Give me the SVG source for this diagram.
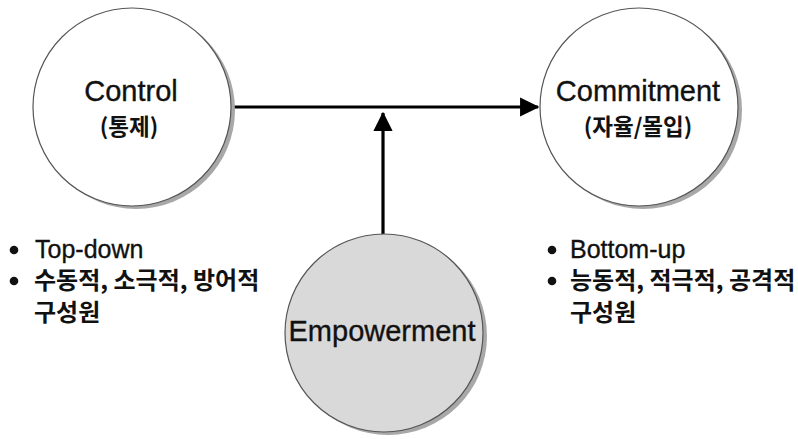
<svg xmlns="http://www.w3.org/2000/svg" width="798" height="439" viewBox="0 0 798 439">
<defs>
<style>
.node{stroke:#555;stroke-width:1.2}
.shadow{fill:#a8a8a8}
.lat{font-family:"Liberation Sans",Arial,"Noto Sans CJK KR",sans-serif;fill:#111;stroke:#111;stroke-width:0.35}
.kor{font-family:"Noto Sans CJK KR","Liberation Sans",sans-serif;font-weight:700;fill:#111}
.conn{stroke:#000;stroke-width:3.2;fill:none}
.dot{fill:#111}
</style>
<marker id="arr" markerWidth="6" markerHeight="6" refX="5.6" refY="3" orient="auto" markerUnits="strokeWidth">
<path d="M0,0 L6,3 L0,6 Z" fill="#000"/>
</marker>
</defs>
<rect width="798" height="439" fill="#fff"/>
<g id="connectors">
<line class="conn" x1="231" y1="107" x2="538" y2="107" marker-end="url(#arr)"/>
<line class="conn" x1="383" y1="235" x2="383" y2="113" marker-end="url(#arr)"/>
</g>
<g id="control">
<circle class="shadow" cx="136" cy="110" r="99"/>
<circle class="node" cx="132" cy="107" r="99" fill="#fff"/>
<text class="lat" x="131" y="101" font-size="29" text-anchor="middle">Control</text>
<text class="kor" x="129" y="135" font-size="22.5" text-anchor="middle">(통제)</text>
</g>
<g id="commitment">
<circle class="shadow" cx="643" cy="110" r="99"/>
<circle class="node" cx="639" cy="107" r="99" fill="#fff"/>
<text class="lat" x="638" y="101" font-size="29" text-anchor="middle">Commitment</text>
<text class="kor" x="638" y="135" font-size="22.5" text-anchor="middle">(자율/몰입)</text>
</g>
<g id="empowerment">
<circle class="shadow" cx="388" cy="336" r="99"/>
<circle class="node" cx="384" cy="333" r="99" fill="#d9d9d9"/>
<text class="lat" x="382" y="341" font-size="29" text-anchor="middle">Empowerment</text>
</g>
<g id="left-notes">
<circle class="dot" cx="14" cy="250" r="4.3"/>
<text class="lat" x="35" y="258" font-size="25">Top-down</text>
<circle class="dot" cx="14" cy="281" r="4.3"/>
<text class="kor" x="34" y="289" font-size="24">수동적, 소극적, 방어적</text>
<text class="kor" x="34" y="321" font-size="24">구성원</text>
</g>
<g id="right-notes">
<circle class="dot" cx="552" cy="250" r="4.3"/>
<text class="lat" x="570" y="258" font-size="25">Bottom-up</text>
<circle class="dot" cx="552" cy="281" r="4.3"/>
<text class="kor" x="570" y="289" font-size="24">능동적, 적극적, 공격적</text>
<text class="kor" x="570" y="321" font-size="24">구성원</text>
</g>
</svg>
